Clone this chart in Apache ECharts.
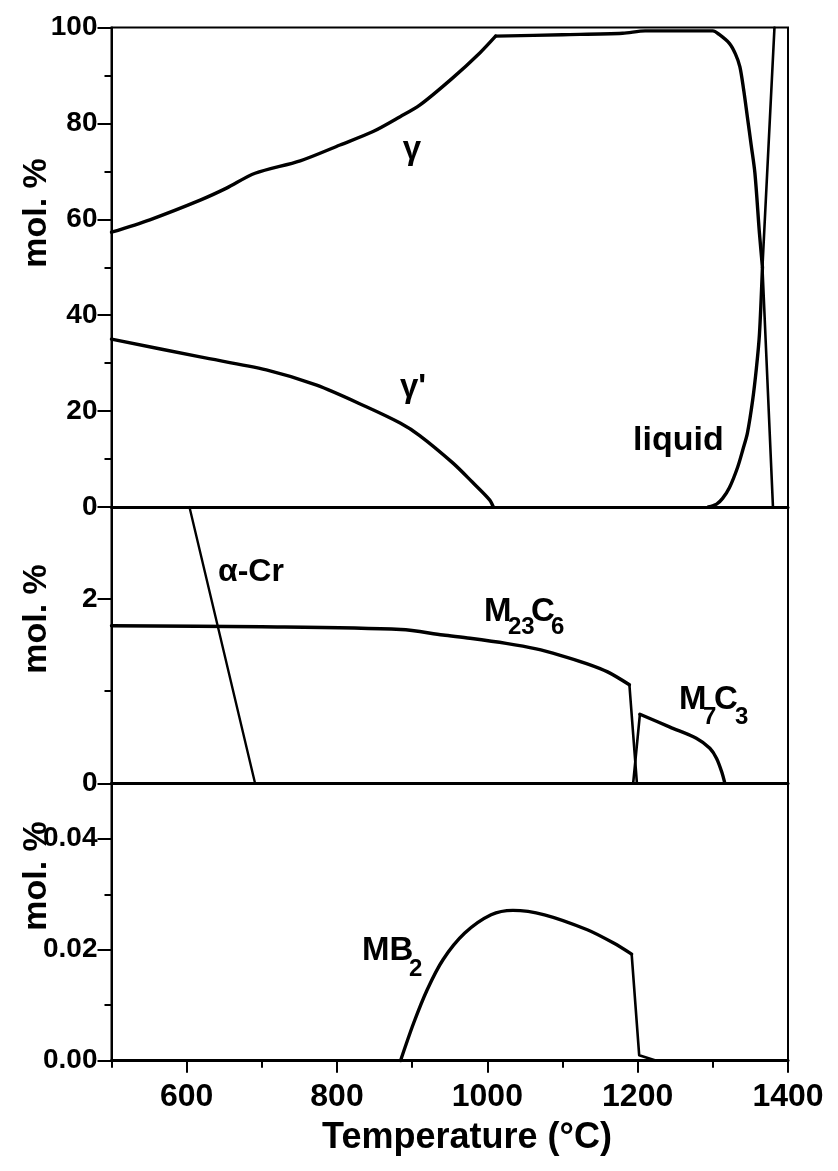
<!DOCTYPE html>
<html><head><meta charset="utf-8">
<script src="https://cdn.jsdelivr.net/npm/echarts@6/dist/echarts.min.js"></script>
<style>html,body{margin:0;padding:0;background:#fff}#c{width:838px;height:1171px}</style>
</head><body><div id="c"></div>
<script>
const FONT = "'Liberation Sans', Arial, Helvetica, sans-serif";

// x-axis ticks (Temperature, °C)
const xMajorTicks = [600, 800, 1000, 1200, 1400];
const xMinorTicks = [500, 700, 900, 1100, 1300];

// top panel (mol. %, 0-100)
const gammaRiseT = [500, 551, 618, 653, 691, 751, 804, 848, 884, 910, 954, 990, 1011];
const gammaRiseV = [57.3, 59.9, 64.0, 66.5, 69.6, 72.2, 75.5, 78.3, 81.4, 83.8, 89.5, 94.7, 98.2];
const gammaPlateauT = [1011, 1100, 1180, 1210, 1300, 1308, 1322, 1330, 1336, 1341, 1346, 1351, 1356, 1362, 1366];
const gammaPlateauV = [98.2, 98.5, 98.8, 99.3, 99.3, 98.6, 96.7, 94.5, 91.8, 87.0, 81.3, 75.5, 69.6, 57.1, 50.0];
const gammaMeltT = [1366, 1380];
const gammaMeltV = [50.0, 0];
const gammaPrimeT = [500, 618, 706, 773, 839, 884, 910, 954, 980, 1003, 1008];
const gammaPrimeV = [35.0, 31.3, 28.6, 25.4, 20.9, 17.5, 14.9, 9.2, 5.2, 1.5, 0];
const liquidRiseT = [1294, 1305, 1313, 1322, 1333, 1340, 1346, 1353, 1358, 1362, 1366];
const liquidRiseV = [0, 0.6, 1.8, 4.0, 8.3, 12.0, 15.4, 22.3, 29.0, 36.0, 50.0];
const liquidMeltT = [1366, 1382];
const liquidMeltV = [50.0, 100];

// middle panel (mol. %, 0-3)
const alphaCrT = [603.7, 691];
const alphaCrV = [3.0, 0];
const m23c6CurveT = [500, 700, 885, 941, 977, 1025, 1065, 1097, 1132, 1160, 1189];
const m23c6CurveV = [1.71, 1.70, 1.67, 1.61, 1.575, 1.52, 1.46, 1.39, 1.30, 1.21, 1.07];
const m23c6DropT = [1189, 1199];
const m23c6DropV = [1.07, 0];
const m7c3RiseT = [1194, 1203];
const m7c3RiseV = [0, 0.75];
const m7c3CurveT = [1203, 1243, 1278, 1296, 1305, 1312, 1316];
const m7c3CurveV = [0.75, 0.61, 0.49, 0.38, 0.27, 0.12, 0];

// bottom panel (mol. %, 0-0.05)
const mb2ArcT = [884.5, 902, 920, 941, 970, 1005, 1034, 1076, 1133, 1168, 1192];
const mb2ArcV = [0, 0.0068, 0.0128, 0.0182, 0.0230, 0.0263, 0.0271, 0.0263, 0.0236, 0.0212, 0.0192];
const mb2DropT = [1192, 1202, 1225];
const mb2DropV = [0.0192, 0.001, 0];

const zip = (a, b) => a.map((v, i) => [v, b[i]]);

const black = '#000';
const gridBase = {left: 111.5, right: 50, show: true, borderWidth: 2, borderColor: black, backgroundColor: 'transparent', outerBoundsMode: 'none', containLabel: false};

function plainX(gi) {
  return {gridIndex: gi, type: 'value', min: 500, max: 1400, interval: 100, position: 'bottom',
    axisLine: {show: true, lineStyle: {color: black, width: 3}}, axisTick: {show: false},
    axisLabel: {show: false}, splitLine: {show: false}};
}
const yLabel = {color: black, fontSize: 28, fontWeight: 'bold', fontFamily: FONT, margin: 14};
function majorY(gi, max, interval, extra) {
  return Object.assign({gridIndex: gi, type: 'value', min: 0, max: max, interval: interval, position: 'left',
    axisLine: {show: true, lineStyle: {color: black, width: 2}},
    axisTick: {show: true, inside: false, length: 14, lineStyle: {color: black, width: 2}},
    axisLabel: Object.assign({}, yLabel, {showMaxLabel: gi === 0}),
    splitLine: {show: false}}, extra || {});
}
function minorY(gi, max, interval) {
  return {gridIndex: gi, type: 'value', min: 0, max: max, interval: interval, position: 'left', offset: 0,
    axisLine: {show: false}, axisTick: {show: true, length: 7, lineStyle: {color: black, width: 2}},
    axisLabel: {show: false}, splitLine: {show: false}};
}

const yAxes = [
  majorY(0, 100, 20, {minorTick: {show: true, splitNumber: 2, length: 7, lineStyle: {color: black, width: 2}}}),
  majorY(1, 3, 2),
  minorY(1, 3, 1),
  majorY(2, 0.05, 0.02),
  minorY(2, 0.05, 0.01)
];
yAxes[3].axisLabel.formatter = v => v.toFixed(2);

function line(data, xi, yi, smooth, w) {
  return {type: 'line', data: data, xAxisIndex: xi, yAxisIndex: yi, showSymbol: false, symbol: 'none',
    smooth: smooth ? 0.3 : false, silent: true, animation: false, clip: true,
    lineStyle: {color: black, width: w || 3.4, join: 'round', cap: 'round'}};
}

function txt(x, y, text, fs, align, rot) {
  return {type: 'text', x: x, y: y, rotation: rot || 0, silent: true,
    style: {text: text, fontSize: fs, fontWeight: 'bold', fontFamily: FONT, fill: black,
      align: align || 'left', verticalAlign: 'middle'}};
}
const R = Math.PI / 2;

const option = {
  animation: false,
  backgroundColor: '#fff',
  grid: [
    Object.assign({}, gridBase, {top: 27.5, height: 479.5}),
    Object.assign({}, gridBase, {top: 507, height: 276.3}),
    Object.assign({}, gridBase, {top: 783.3, height: 277.4})
  ],
  xAxis: [
    plainX(0),
    plainX(1),
    {gridIndex: 2, type: 'value', min: 500, max: 1400, interval: 100, position: 'bottom',
      axisLine: {show: true, lineStyle: {color: black, width: 3}},
      axisTick: {show: true, length: 12, customValues: xMajorTicks, lineStyle: {color: black, width: 2}},
      axisLabel: {customValues: xMajorTicks, formatter: v => String(v), color: black, fontSize: 32, fontWeight: 'bold', fontFamily: FONT, margin: 20},
      splitLine: {show: false}},
    {gridIndex: 2, type: 'value', min: 500, max: 1400, interval: 100, position: 'bottom', offset: 0,
      axisLine: {show: false},
      axisTick: {show: true, length: 7, customValues: xMinorTicks, lineStyle: {color: black, width: 2}},
      axisLabel: {show: false}, splitLine: {show: false}}
  ],
  yAxis: yAxes,
  series: [
    line(zip(gammaRiseT, gammaRiseV), 0, 0, true),
    line(zip(gammaPlateauT, gammaPlateauV), 0, 0, true),
    line(zip(gammaMeltT, gammaMeltV), 0, 0, false, 2.6),
    line(zip(gammaPrimeT, gammaPrimeV), 0, 0, true),
    line(zip(liquidRiseT, liquidRiseV), 0, 0, true),
    line(zip(liquidMeltT, liquidMeltV), 0, 0, false, 2.6),
    line(zip(alphaCrT, alphaCrV), 1, 1, false, 2.4),
    line(zip(m23c6CurveT, m23c6CurveV), 1, 1, true),
    line(zip(m23c6DropT, m23c6DropV), 1, 1, false, 2.6),
    line(zip(m7c3RiseT, m7c3RiseV), 1, 1, false, 2.6),
    line(zip(m7c3CurveT, m7c3CurveV), 1, 1, true),
    line(zip(mb2ArcT, mb2ArcV), 2, 3, true),
    line(zip(mb2DropT, mb2DropV), 2, 3, false, 2.6)
  ],
  graphic: [
    txt(37, 213, 'mol. %', 34, 'center', R),
    txt(37, 619, 'mol. %', 34, 'center', R),
    txt(37, 876, 'mol. %', 34, 'center', R),
    txt(467, 1138, 'Temperature (°C)', 36, 'center'),
    txt(412, 150, 'γ', 33, 'center'),
    txt(400, 388, "γ'", 33, 'left'),
    txt(633, 441, 'liquid', 34, 'left'),
    txt(218, 572, 'α-Cr', 32, 'left'),
    txt(484, 612, 'M', 33, 'left'),
    txt(508, 627, '23', 24, 'left'),
    txt(531, 612, 'C', 33, 'left'),
    txt(551, 627, '6', 24, 'left'),
    txt(679, 700, 'M', 33, 'left'),
    txt(703, 717, '7', 24, 'left'),
    txt(714, 700, 'C', 33, 'left'),
    txt(735, 717, '3', 24, 'left'),
    txt(362, 951, 'MB', 33, 'left'),
    txt(409, 969, '2', 24, 'left')
  ]
};

const chart = echarts.init(document.getElementById('c'), null, {renderer: 'canvas', devicePixelRatio: 1});
chart.setOption(option);
</script>
</body></html>
